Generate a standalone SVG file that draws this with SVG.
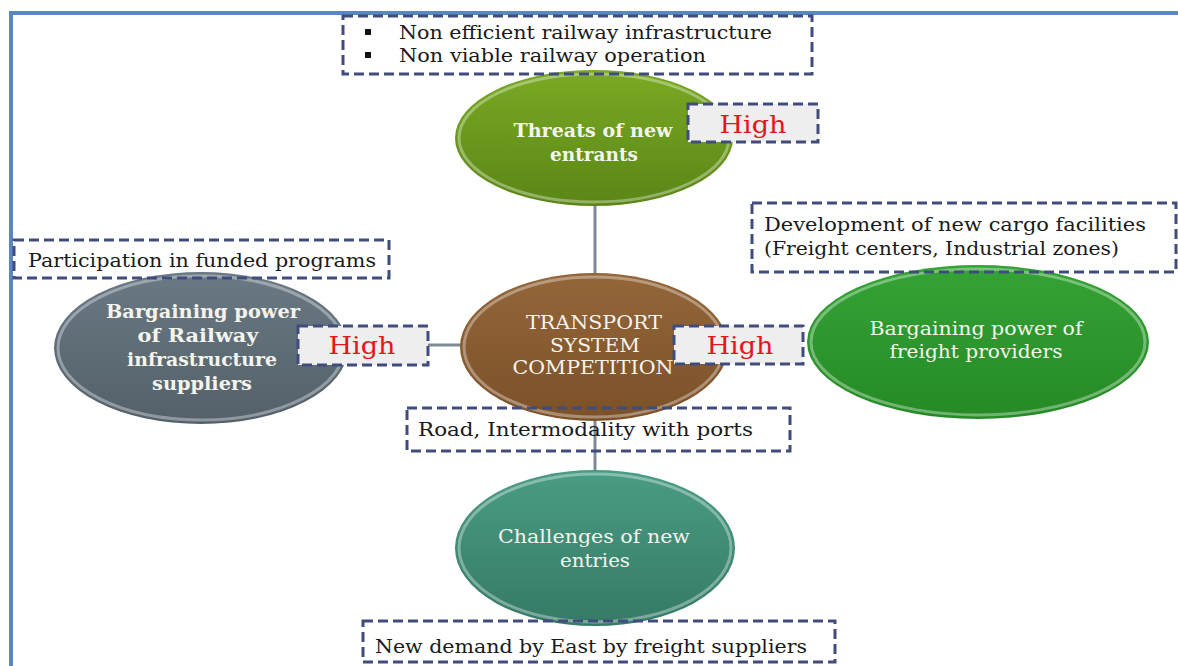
<svg xmlns="http://www.w3.org/2000/svg" width="1178" height="666" viewBox="0 0 1178 666">
<defs>
<style>
.box{fill:none;stroke:#3f4c7d;stroke-width:3;stroke-dasharray:10 5}
.hbox{fill:#eeeeee;stroke:#3f4c7d;stroke-width:3;stroke-dasharray:10 5}
.t{font-family:"DejaVu Serif","Liberation Serif",serif;font-size:18px;fill:#1a1a1a}
.hi{font-family:"DejaVu Serif","Liberation Serif",serif;font-size:25px;fill:#e2161c;text-anchor:middle}
.et{font-family:"DejaVu Serif","Liberation Serif",serif;font-size:19px;fill:#f4f4ec;text-anchor:middle}
.b{font-weight:bold;font-size:18px}
.conn{stroke:#7d8a96;stroke-width:3;fill:none}
.rim{fill:none;stroke:#ffffff;stroke-opacity:0.35;stroke-width:3}
</style>
<linearGradient id="gGreen" x1="0" y1="0" x2="0" y2="1"><stop offset="0" stop-color="#7aaa24"/><stop offset="1" stop-color="#5a8616"/></linearGradient>
<linearGradient id="gBrown" x1="0" y1="0" x2="0" y2="1"><stop offset="0" stop-color="#94663a"/><stop offset="1" stop-color="#7c5128"/></linearGradient>
<linearGradient id="gSlate" x1="0" y1="0" x2="0" y2="1"><stop offset="0" stop-color="#6a7984"/><stop offset="1" stop-color="#536069"/></linearGradient>
<linearGradient id="gFresh" x1="0" y1="0" x2="0" y2="1"><stop offset="0" stop-color="#35a335"/><stop offset="1" stop-color="#258a25"/></linearGradient>
<linearGradient id="gTeal" x1="0" y1="0" x2="0" y2="1"><stop offset="0" stop-color="#4a9c84"/><stop offset="1" stop-color="#357a66"/></linearGradient>
</defs>
<rect width="1178" height="666" fill="#ffffff"/>
<path d="M11,666 V13 H1178" fill="none" stroke="#5b87c0" stroke-width="4"/>

<g id="connectors">
<line class="conn" x1="595" y1="205" x2="595" y2="285"/>
<line class="conn" x1="595" y1="418" x2="595" y2="472"/>
<line class="conn" x1="428" y1="345" x2="462" y2="345"/>
</g>

<g id="threats">
<ellipse cx="594" cy="138" rx="139" ry="68" fill="url(#gGreen)"/>
<ellipse class="rim" cx="594" cy="138" rx="135" ry="64"/>
<text class="et b" x="593" y="137" textLength="159" lengthAdjust="spacingAndGlyphs">Threats of new</text>
<text class="et b" x="594" y="161" textLength="88" lengthAdjust="spacingAndGlyphs">entrants</text>
</g>
<g id="threats-high">
<rect class="hbox" x="688" y="104" width="130" height="38"/>
<text class="hi" x="753" y="133" textLength="67" lengthAdjust="spacingAndGlyphs">High</text>
</g>
<g id="threats-note">
<rect class="box" x="343" y="16" width="469" height="58"/>
<rect x="365" y="29" width="6" height="6" fill="#111"/>
<rect x="365" y="52" width="6" height="6" fill="#111"/>
<text class="t" x="399" y="39" textLength="373" lengthAdjust="spacingAndGlyphs">Non efficient railway infrastructure</text>
<text class="t" x="399" y="62" textLength="307" lengthAdjust="spacingAndGlyphs">Non viable railway operation</text>
</g>

<g id="center">
<ellipse cx="594" cy="347" rx="134" ry="74" fill="url(#gBrown)"/>
<ellipse class="rim" cx="594" cy="347" rx="130" ry="70"/>
<text class="et" x="594" y="329" textLength="136" lengthAdjust="spacingAndGlyphs">TRANSPORT</text>
<text class="et" x="595" y="352" textLength="90" lengthAdjust="spacingAndGlyphs">SYSTEM</text>
<text class="et" x="593" y="374" textLength="161" lengthAdjust="spacingAndGlyphs">COMPETITION</text>
</g>
<g id="center-high">
<rect class="hbox" x="674" y="326" width="129" height="38"/>
<text class="hi" x="740" y="354" textLength="67" lengthAdjust="spacingAndGlyphs">High</text>
</g>
<g id="center-note">
<rect class="box" x="407" y="408" width="383" height="43"/>
<text class="t" x="418" y="436" textLength="335" lengthAdjust="spacingAndGlyphs">Road, Intermodality with ports</text>
</g>

<g id="suppliers">
<ellipse cx="201" cy="348" rx="147" ry="76" fill="url(#gSlate)"/>
<ellipse class="rim" cx="201" cy="348" rx="143" ry="72"/>
<text class="et b" x="203" y="318" textLength="194" lengthAdjust="spacingAndGlyphs">Bargaining power</text>
<text class="et b" x="198" y="342" textLength="121" lengthAdjust="spacingAndGlyphs">of Railway</text>
<text class="et b" x="202" y="366" textLength="150" lengthAdjust="spacingAndGlyphs">infrastructure</text>
<text class="et b" x="202" y="390" textLength="100" lengthAdjust="spacingAndGlyphs">suppliers</text>
</g>
<g id="suppliers-high">
<rect class="hbox" x="298" y="326" width="130" height="39"/>
<text class="hi" x="362" y="354" textLength="67" lengthAdjust="spacingAndGlyphs">High</text>
</g>
<g id="suppliers-note">
<rect class="box" x="14" y="240" width="375" height="38"/>
<text class="t" x="28" y="267" textLength="348" lengthAdjust="spacingAndGlyphs">Participation in funded programs</text>
</g>

<g id="freight">
<ellipse cx="978" cy="342" rx="171" ry="77" fill="url(#gFresh)"/>
<ellipse class="rim" cx="978" cy="342" rx="167" ry="73"/>
<text class="et" x="976" y="335" textLength="213" lengthAdjust="spacingAndGlyphs">Bargaining power of</text>
<text class="et" x="976" y="358" textLength="173" lengthAdjust="spacingAndGlyphs">freight providers</text>
</g>
<g id="freight-note">
<rect class="box" x="752" y="203" width="424" height="69"/>
<text class="t" x="764" y="231" textLength="382" lengthAdjust="spacingAndGlyphs">Development of  new cargo facilities</text>
<text class="t" x="764" y="255" textLength="355" lengthAdjust="spacingAndGlyphs">(Freight centers, Industrial zones)</text>
</g>

<g id="entries">
<ellipse cx="595" cy="548" rx="140" ry="78" fill="url(#gTeal)"/>
<ellipse class="rim" cx="595" cy="548" rx="136" ry="74"/>
<text class="et" x="594" y="543" textLength="192" lengthAdjust="spacingAndGlyphs">Challenges of new</text>
<text class="et" x="595" y="567" textLength="70" lengthAdjust="spacingAndGlyphs">entries</text>
</g>
<g id="entries-note">
<rect class="box" x="363" y="621" width="472" height="41"/>
<text class="t" x="375" y="653" textLength="432" lengthAdjust="spacingAndGlyphs">New demand by East by freight suppliers</text>
</g>
</svg>
